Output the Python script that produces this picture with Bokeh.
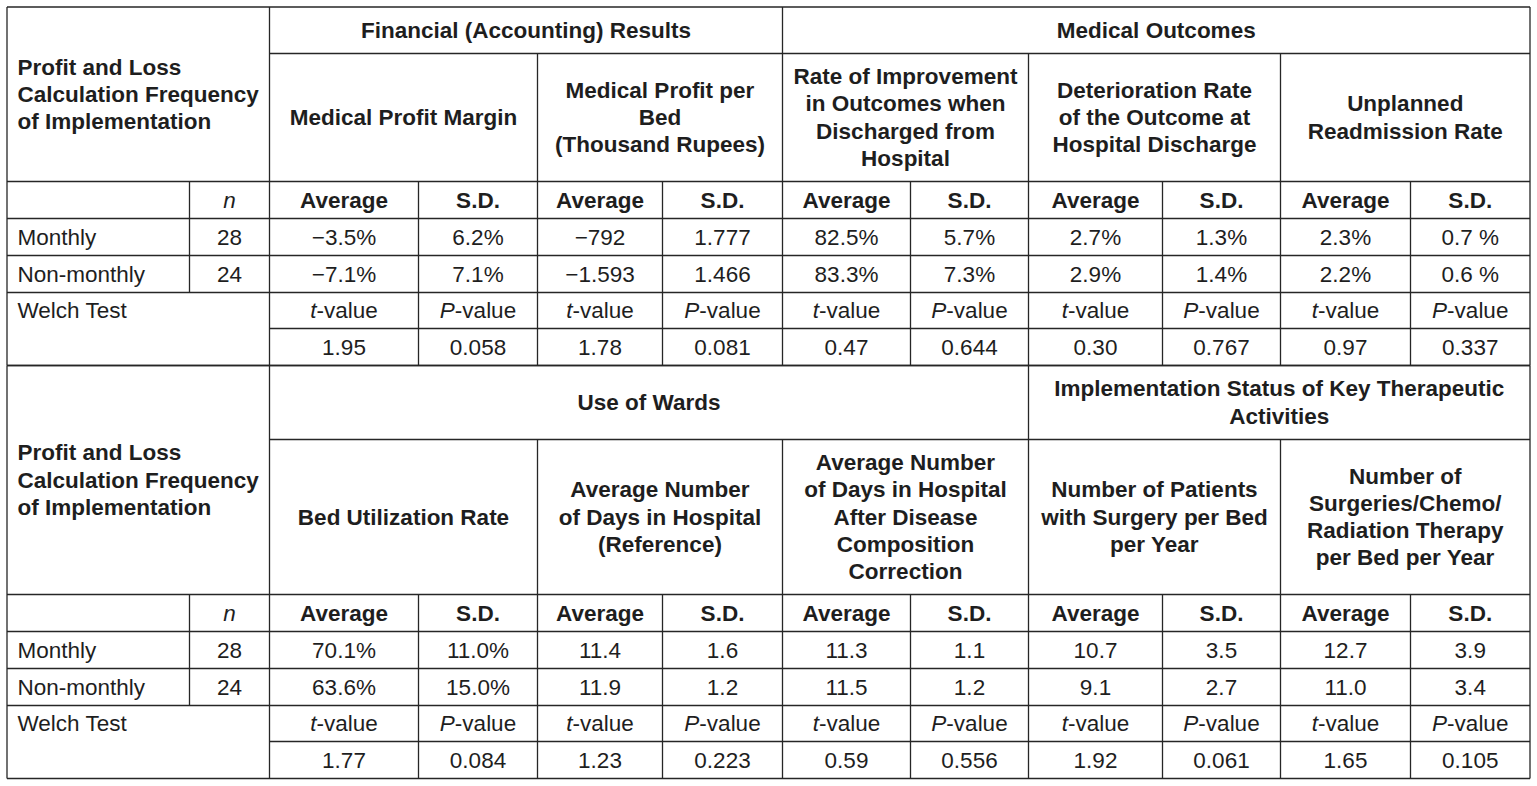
from bokeh.plotting import figure
from bokeh.models import Range1d
from bokeh.core.properties import value
from bokeh.embed import file_html
from bokeh.resources import INLINE

# ---------------- data ----------------
corner_label = "Profit and Loss\nCalculation Frequency\nof Implementation"
groups = ["Monthly", "Non-monthly"]
group_n = ["28", "24"]
n_label = "n"
welch_label = "Welch Test"
stat_heads = ["Average", "S.D."]
test_heads = [("t", "-value"), ("P", "-value")]

top_sections = ["Financial (Accounting) Results", "Medical Outcomes"]
top_metrics = [
    "Medical Profit Margin",
    "Medical Profit per\nBed\n(Thousand Rupees)",
    "Rate of Improvement\nin Outcomes when\nDischarged from\nHospital",
    "Deterioration Rate\nof the Outcome at\nHospital Discharge",
    "Unplanned\nReadmission Rate",
]
top_monthly = ["\u22123.5%", "6.2%", "\u2212792", "1.777", "82.5%", "5.7%", "2.7%", "1.3%", "2.3%", "0.7 %"]
top_nonmonthly = ["\u22127.1%", "7.1%", "\u22121.593", "1.466", "83.3%", "7.3%", "2.9%", "1.4%", "2.2%", "0.6 %"]
top_welch = ["1.95", "0.058", "1.78", "0.081", "0.47", "0.644", "0.30", "0.767", "0.97", "0.337"]

bottom_sections = ["Use of Wards", "Implementation Status of Key Therapeutic\nActivities"]
bottom_metrics = [
    "Bed Utilization Rate",
    "Average Number\nof Days in Hospital\n(Reference)",
    "Average Number\nof Days in Hospital\nAfter Disease\nComposition\nCorrection",
    "Number of Patients\nwith Surgery per Bed\nper Year",
    "Number of\nSurgeries/Chemo/\nRadiation Therapy\nper Bed per Year",
]
bottom_monthly = ["70.1%", "11.0%", "11.4", "1.6", "11.3", "1.1", "10.7", "3.5", "12.7", "3.9"]
bottom_nonmonthly = ["63.6%", "15.0%", "11.9", "1.2", "11.5", "1.2", "9.1", "2.7", "11.0", "3.4"]
bottom_welch = ["1.77", "0.084", "1.23", "0.223", "0.59", "0.556", "1.92", "0.061", "1.65", "0.105"]

# ---------------- layout ----------------
COL = [6.5, 189, 269, 418, 537, 662, 782, 910, 1028, 1162, 1280, 1410, 1529.5]
TOP_ROWS = [6.5, 53, 181, 218, 255, 292, 328, 365]
BOT_ROWS = [365, 439, 594, 631, 668, 705, 741, 778]
TOP_SPANS = [(2, 6), (6, 12)]
BOT_SPANS = [(2, 8), (8, 12)]

FONT = value("Liberation Sans")
EM = 22.5
FS = "22.5px"
TXT = "#1e1e1e"
LINE = "#262626"

W, H = 1537, 786
p = figure(width=W, height=H, x_range=Range1d(0, W), y_range=Range1d(H, 0),
           output_backend="svg", toolbar_location=None, x_axis_type=None, y_axis_type=None,
           min_border=0, outline_line_color=None, background_fill_color="white",
           border_fill_color="white")
p.grid.visible = False

sx0, sy0, sx1, sy1 = [], [], [], []


def seg(x0, y0, x1, y1):
    sx0.append(x0); sy0.append(y0); sx1.append(x1); sy1.append(y1)


texts = {"bold_c": ([], [], []), "norm_c": ([], [], []), "norm_l": ([], [], []),
         "bold_l": ([], [], [])}


def put(kind, x, y, t):
    texts[kind][0].append(x); texts[kind][1].append(y); texts[kind][2].append(t)


ital = ([], [], [], [])   # x, y, text, offset
rest = ([], [], [], [])


def mid(a, b):
    return (a + b) / 2.0


def block(R, spans, sections, metrics, monthly, nonmonthly, welch):
    # horizontal lines
    seg(COL[0], R[0], COL[-1], R[0])
    seg(COL[2], R[1], COL[-1], R[1])
    for r in (2, 3, 4, 5):
        seg(COL[0], R[r], COL[-1], R[r])
    seg(COL[2], R[6], COL[-1], R[6])
    seg(COL[0], R[7], COL[-1], R[7])
    # vertical lines
    seg(COL[0], R[0], COL[0], R[7])
    seg(COL[-1], R[0], COL[-1], R[7])
    seg(COL[2], R[0], COL[2], R[7])
    seg(COL[1], R[2], COL[1], R[5])
    for a, b in spans[1:]:
        seg(COL[a], R[0], COL[a], R[1])
    for i in range(4, 12, 2):
        seg(COL[i], R[1], COL[i], R[7])
    for i in range(3, 12, 2):
        seg(COL[i], R[2], COL[i], R[7])
    # texts
    put("bold_l", 17, mid(R[0], R[2]), corner_label)
    for (a, b), s in zip(spans, sections):
        put("bold_c", mid(COL[a], COL[b]), mid(R[0], R[1]), s)
    for i, m in enumerate(metrics):
        put("bold_c", mid(COL[2 + 2 * i], COL[4 + 2 * i]), mid(R[1], R[2]), m)
    cx = mid(COL[1], COL[2])
    ital[0].append(cx); ital[1].append(mid(R[2], R[3])); ital[2].append(n_label); ital[3].append(-0.278 * EM)
    for j in range(10):
        c = mid(COL[2 + j], COL[3 + j])
        put("bold_c", c, mid(R[2], R[3]), stat_heads[j % 2])
        put("norm_c", c, mid(R[3], R[4]), monthly[j])
        put("norm_c", c, mid(R[4], R[5]), nonmonthly[j])
        put("norm_c", c, mid(R[6], R[7]), welch[j])
        a, b = test_heads[j % 2]
        wa = (0.278 if a == "t" else 0.667) * EM
        wb = 2.723 * EM
        start = -(wa + wb) / 2.0
        ital[0].append(c); ital[1].append(mid(R[5], R[6])); ital[2].append(a); ital[3].append(start)
        rest[0].append(c); rest[1].append(mid(R[5], R[6])); rest[2].append(b); rest[3].append(start + wa)
    for g, n, r in zip(groups, group_n, (3, 4)):
        put("norm_l", 17, mid(R[r], R[r + 1]), g)
        put("norm_c", cx, mid(R[r], R[r + 1]), n)
    put("norm_l", 17, mid(R[5], R[6]), welch_label)


block(TOP_ROWS, TOP_SPANS, top_sections, top_metrics, top_monthly, top_nonmonthly, top_welch)
block(BOT_ROWS, BOT_SPANS, bottom_sections, bottom_metrics, bottom_monthly, bottom_nonmonthly, bottom_welch)

p.segment(sx0, sy0, sx1, sy1, line_color=LINE, line_width=1.3)

common = dict(text_font=FONT, text_font_size=FS, text_color=TXT, text_baseline="middle",
              text_line_height=1.085)
for kind, (xs, ys, ts) in texts.items():
    style = "bold" if kind.startswith("bold") else "normal"
    align = "center" if kind.endswith("_c") else "left"
    p.text(xs, ys, text=ts, text_align=align, text_font_style=style, **common)

for i in range(len(ital[0])):
    p.text([ital[0][i]], [ital[1][i]], text=[ital[2][i]], text_align="left",
           text_font_style="italic", x_offset=ital[3][i], **common)
for i in range(len(rest[0])):
    p.text([rest[0][i]], [rest[1][i]], text=[rest[2][i]], text_align="left",
           text_font_style="normal", x_offset=rest[3][i], **common)

open("out.html", "w").write(file_html(p, INLINE))
